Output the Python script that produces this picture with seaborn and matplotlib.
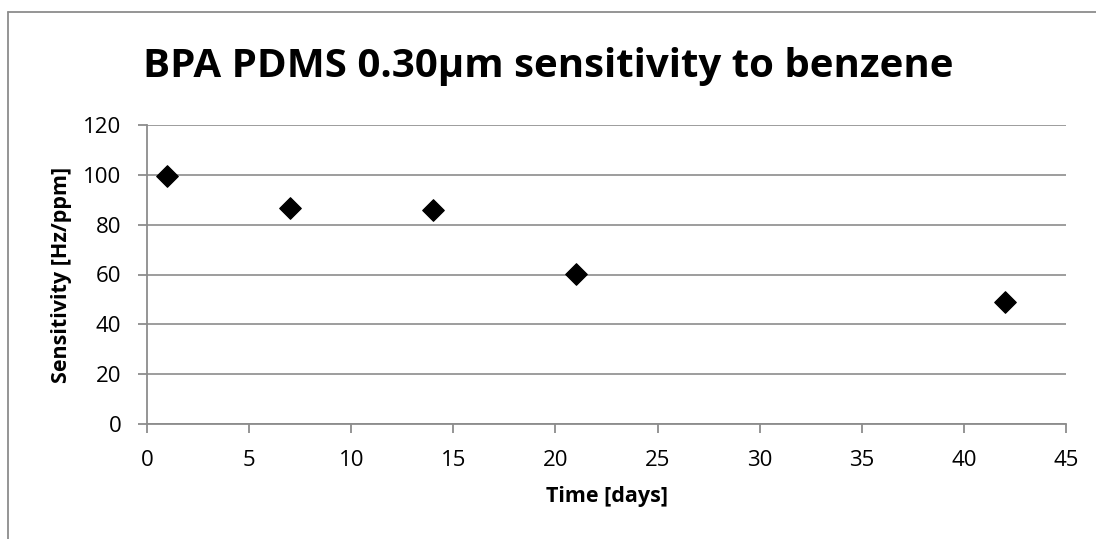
import numpy as np
import pandas as pd
import seaborn as sns
import matplotlib
matplotlib.use("Agg")
from matplotlib import pyplot as plt
from matplotlib.lines import Line2D

# data
time_days = [1, 7, 14, 21, 42]
sensitivity = [99.5, 86.5, 86.0, 60.2, 48.8]

df = pd.DataFrame({"Time [days]": time_days, "Sensitivity [Hz/ppm]": sensitivity})

sns.set_style("white")
plt.rcParams['font.family'] = ['Open Sans', 'DejaVu Sans']
plt.rcParams['text.color'] = 'black'
plt.rcParams['axes.labelcolor'] = 'black'

fig = plt.figure(figsize=(10.96, 5.39), dpi=100)
ax = fig.add_axes([147 / 1096, 1 - 424 / 539, (1066 - 147) / 1096, (424 - 125) / 539])

sns.scatterplot(data=df, x="Time [days]", y="Sensitivity [Hz/ppm]", marker="D",
                s=120, color="black", edgecolor="black", ax=ax, zorder=3)

ax.set_xlim(0, 45)
ax.set_ylim(0, 120)
ax.set_xticks(np.arange(0, 46, 5))
ax.set_yticks(np.arange(0, 121, 20))
ax.grid(axis="y", color="#8c8c8c", linewidth=1.2)
ax.grid(axis="x", visible=False)
for s in ["top", "right"]:
    ax.spines[s].set_visible(False)
for s in ["left", "bottom"]:
    ax.spines[s].set_color("#8c8c8c")
    ax.spines[s].set_linewidth(1.3)
ax.tick_params(axis="both", which="both", length=6.5, width=1.3, color="#8c8c8c",
               labelsize=16, direction="out", bottom=True, left=True, labelcolor="black")
ax.tick_params(axis="x", pad=12)
ax.tick_params(axis="y", pad=12)
ax.set_xlabel("Time [days]", fontsize=15.5, fontweight="bold", labelpad=11)
ax.set_ylabel("Sensitivity [Hz/ppm]", fontsize=15.5, fontweight="bold", labelpad=8)

fig.text(0.5, 1 - 77 / 539, "BPA PDMS 0.30µm sensitivity to benzene", ha="center",
         va="baseline", fontsize=29, fontweight="bold")

# outer chart border (only left and top visible in the crop)
fig.add_artist(Line2D([8 / 1096, 8 / 1096], [0, 1 - 12 / 539], transform=fig.transFigure,
                      color="#8c8c8c", linewidth=1.3))
fig.add_artist(Line2D([8 / 1096, 1], [1 - 12 / 539, 1 - 12 / 539], transform=fig.transFigure,
                      color="#8c8c8c", linewidth=1.3))

fig.savefig("out.png", dpi=100)
